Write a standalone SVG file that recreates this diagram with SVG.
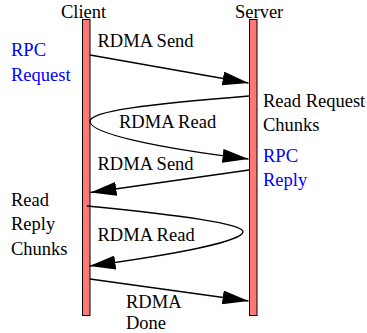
<svg xmlns="http://www.w3.org/2000/svg" width="367" height="333" viewBox="0 0 367 333">
<style>
text{font-family:"Liberation Serif","Times New Roman",serif;font-size:18.5px;fill:#000}
.blue{fill:#0000ff}
.bar{fill:#f77;stroke:#000;stroke-width:1}
.msg{fill:none;stroke:#000;stroke-width:1.3}
</style>
<defs>
<marker id="ah" markerUnits="userSpaceOnUse" markerWidth="26" markerHeight="14" refX="26" refY="7" orient="auto" viewBox="0 0 26 14">
<path d="M0,0 L26,7 L0,14 z" fill="#000"/>
</marker>
</defs>
<g id="client">
<rect class="bar" x="82.5" y="19.5" width="7.5" height="296"/>
<text x="61" y="18">Client</text>
</g>
<g id="server">
<rect class="bar" x="249.5" y="19.5" width="7.5" height="296"/>
<text x="235" y="18">Server</text>
</g>
<g id="labels">
<text class="blue" x="11" y="56">RPC</text>
<text class="blue" x="11" y="81">Request</text>
<text x="263" y="107">Read Request</text>
<text x="263" y="131">Chunks</text>
<text class="blue" x="263" y="162">RPC</text>
<text class="blue" x="263" y="186">Reply</text>
<text x="11" y="206">Read</text>
<text x="11" y="230">Reply</text>
<text x="11" y="255">Chunks</text>
</g>
<g id="connectors">
<path class="msg" d="M90,55 L248.5,83" marker-end="url(#ah)"/>
<text x="97.5" y="47">RDMA Send</text>
<path class="msg" d="M249,96 C150,104 88,111 90,122 C92,133 150,147 248.5,159" marker-end="url(#ah)"/>
<text x="119" y="128">RDMA Read</text>
<path class="msg" d="M249,170 L90.5,192.5" marker-end="url(#ah)"/>
<text x="97.5" y="170">RDMA Send</text>
<path class="msg" d="M87,206 C180,215 245,224 243,232 C241,242 170,255 89.5,266" marker-end="url(#ah)"/>
<text x="97.5" y="241">RDMA Read</text>
<path class="msg" d="M90,279 L248.5,301" marker-end="url(#ah)"/>
<text x="126" y="308">RDMA</text>
<text x="126" y="329">Done</text>
</g>
</svg>
